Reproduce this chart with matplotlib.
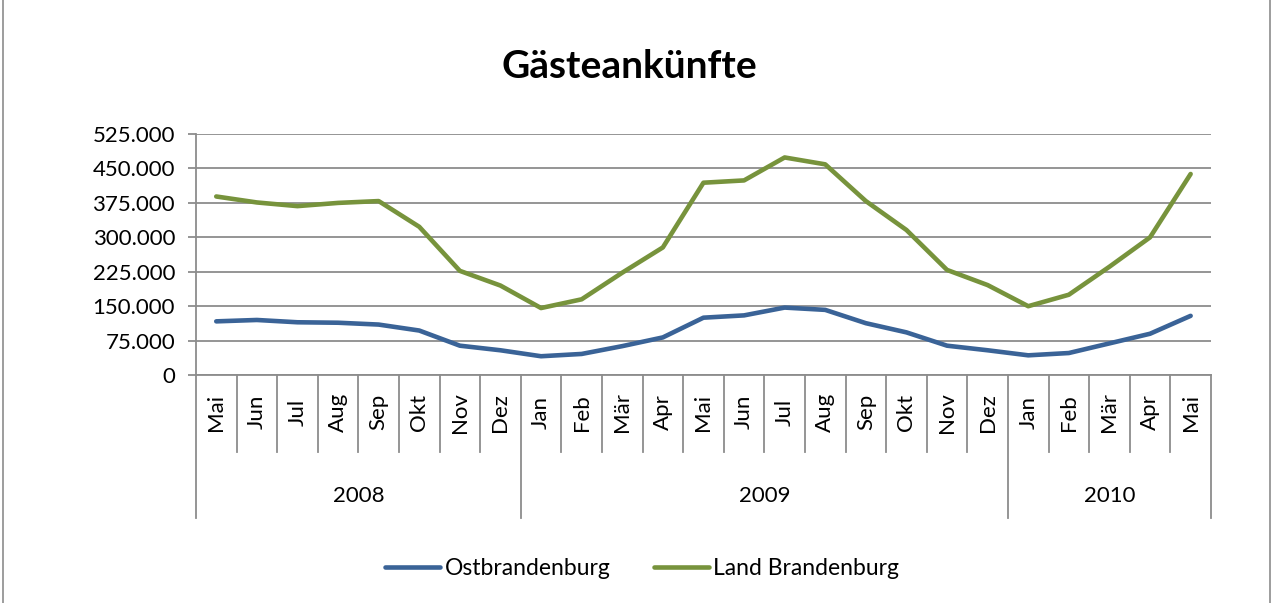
import matplotlib.pyplot as plt
from matplotlib.lines import Line2D
import numpy as np

plt.rcParams['font.family'] = ['Lato', 'DejaVu Sans']

monate = ["Mai", "Jun", "Jul", "Aug", "Sep", "Okt", "Nov", "Dez",
          "Jan", "Feb", "Mär", "Apr", "Mai", "Jun", "Jul", "Aug", "Sep", "Okt", "Nov", "Dez",
          "Jan", "Feb", "Mär", "Apr", "Mai"]
jahre = ["2008", "2009", "2010"]
jahr_anzahl = [8, 12, 5]

ostbrandenburg = [117000, 120000, 115000, 114000, 110000, 97000, 64000, 54000,
                  41000, 46000, 63000, 82000, 125000, 130000, 147000, 142000,
                  113000, 93000, 64000, 54000, 43000, 48000, 69000, 90000, 129000]
land_brandenburg = [389000, 376000, 368000, 375000, 379000, 323000, 227000, 195000,
                    146000, 165000, 223000, 278000, 419000, 424000, 474000, 459000,
                    379000, 316000, 229000, 196000, 150000, 175000, 236000, 300000, 438000]

grau = '#8c8c8c'
fig = plt.figure(figsize=(12.74, 6.03), dpi=100)
ax = fig.add_axes([0.1538, 0.378, 0.7967, 0.3997])

x = np.arange(len(monate))
ax.plot(x, ostbrandenburg, color='#3a6397', lw=3.3, solid_capstyle='round', label='Ostbrandenburg')
ax.plot(x, land_brandenburg, color='#77933c', lw=3.3, solid_capstyle='round', label='Land Brandenburg')

ax.set_xlim(-0.5, len(monate) - 0.5)
ax.set_ylim(0, 525000)
yt = np.arange(0, 525001, 75000)
ax.set_yticks(yt)
ax.set_yticklabels([f"{v:,}".replace(",", ".") for v in yt], fontsize=16)
ax.yaxis.grid(True, color=grau, lw=1.3)
ax.set_axisbelow(True)
for s in ['top', 'right']:
    ax.spines[s].set_visible(False)
for s in ['left', 'bottom']:
    ax.spines[s].set_color(grau)
    ax.spines[s].set_linewidth(1.3)
ax.tick_params(axis='y', length=6, color=grau, width=1.3, pad=9)
ax.set_xticks([])

# mehrstufige Kategorienachse
trans = ax.get_xaxis_transform()
for i, m in enumerate(monate):
    ax.text(i, -0.154, m, rotation=90, ha='center', va='center', fontsize=16, transform=trans)
grenzen = np.cumsum([0] + jahr_anzahl) - 0.5
for b in np.arange(-0.5, len(monate), 1.0):
    tief = -0.593 if np.any(np.isclose(grenzen, b)) else -0.3195
    ax.add_line(Line2D([b, b], [0, tief], color=grau, lw=1.3, transform=trans, clip_on=False))
for j, jahr in enumerate(jahre):
    mitte = (grenzen[j] + grenzen[j + 1]) / 2
    ax.text(mitte, -0.502, jahr, ha='center', va='center', fontsize=16, transform=trans)

fig.text(0.494, 0.89, "Gästeankünfte", ha='center', va='center', fontsize=28, fontweight='bold')
fig.legend(loc='center', bbox_to_anchor=(0.504, 0.058), ncol=2, frameon=False, fontsize=16.5,
           handlelength=2.4, handletextpad=0.2, columnspacing=1.9)

fig.add_artist(Line2D([0.002, 0.002], [0, 1], color=grau, lw=1.2, transform=fig.transFigure))
fig.add_artist(Line2D([0.997, 0.997], [0, 1], color=grau, lw=1.2, transform=fig.transFigure))

fig.savefig('out.png', dpi=100)
